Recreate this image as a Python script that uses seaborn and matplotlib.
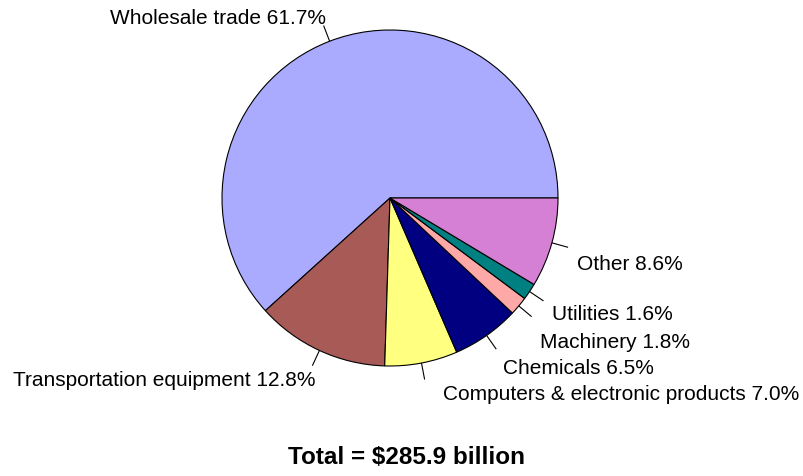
import numpy as np
import matplotlib
matplotlib.use("Agg")
import matplotlib.pyplot as plt
import seaborn as sns

# Industry shares of the total (percent), counter-clockwise from 3 o'clock
categories = ["Wholesale trade", "Transportation equipment",
              "Computers & electronic products", "Chemicals",
              "Machinery", "Utilities", "Other"]
shares = [61.7, 12.8, 7.0, 6.5, 1.8, 1.6, 8.6]
colors = ["#AAAAFF", "#A85A57", "#FFFF80", "#000080",
          "#FFA8A8", "#008080", "#D580D5"]
total_label = "Total = $285.9 billion"

sns.set_theme(style="white")
plt.rcParams["font.family"] = ["Liberation Sans", "DejaVu Sans"]

W, H, DPI = 804, 476, 100
fig = plt.figure(figsize=(W / DPI, H / DPI), dpi=DPI)
ax = fig.add_axes([0, 0, 1, 1])

# pie geometry in pixels: centre and radius
cx, cy, R = 390, 198, 168

def px(x, y):
    """pixel position -> data units (pie radius = 1)"""
    return (x - cx) / R, (cy - y) / R

wedges, _ = ax.pie(shares, colors=colors, startangle=0, counterclock=True,
                   radius=1.0,
                   wedgeprops=dict(edgecolor="black", linewidth=0.8))

# short radial leader ticks at each wedge's mid-angle
for w in wedges:
    mid = np.deg2rad((w.theta1 + w.theta2) / 2)
    ax.plot([np.cos(mid) * 1.0, np.cos(mid) * 1.1],
            [np.sin(mid) * 1.0, np.sin(mid) * 1.1],
            color="black", lw=0.8, solid_capstyle="butt")

# label anchors (left edge, vertical centre) in pixels
label_pos = [(110, 18), (13, 380), (443, 395), (503, 368),
             (540, 342), (552, 315), (577, 264)]
for name, val, (lx, ly) in zip(categories, shares, label_pos):
    x, y = px(lx, ly)
    ax.text(x, y, f"{name} {val:.1f}%", ha="left", va="center",
            fontsize=15, color="black")

tx, ty = px(407, 457)
ax.text(tx, ty, total_label, ha="center", va="center",
        fontsize=17.5, fontweight="bold", color="black")

x0, y0 = px(0, H)
x1, y1 = px(W, 0)
ax.set_xlim(x0, x1)
ax.set_ylim(y0, y1)
ax.set_aspect("auto")
ax.axis("off")

fig.savefig("out.png", dpi=DPI)
